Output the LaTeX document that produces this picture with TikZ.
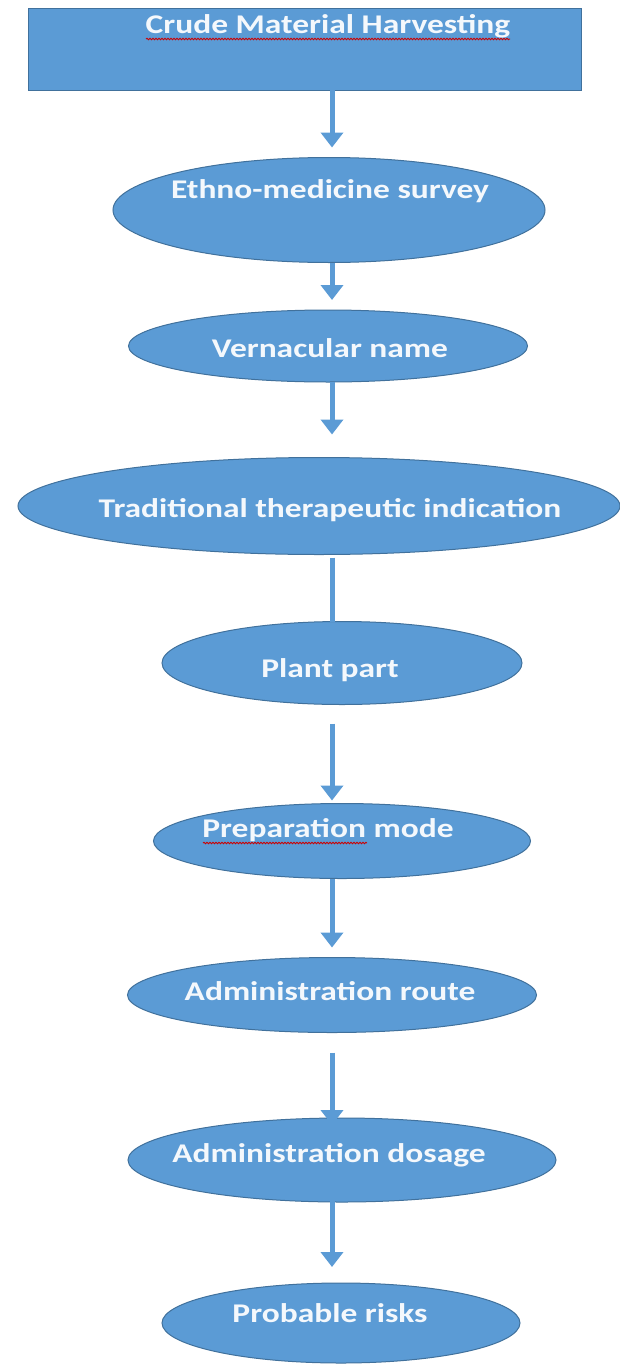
\documentclass[tikz,border=0pt]{standalone}
\usepackage{fontspec}
\setmainfont{Carlito}
\newfontfamily\stagefont[FakeStretch=1.24]{Carlito}
\usetikzlibrary{shapes.geometric,arrows.meta,decorations.pathmorphing}

\definecolor{boxfill}{HTML}{5B9BD5}
\definecolor{boxline}{HTML}{41719C}
\definecolor{labelcol}{HTML}{F4F8FC}

\tikzset{
  stage/.style={draw=boxline, fill=boxfill, line width=1pt, inner sep=0pt, outer sep=0pt},
  oval/.style={stage, ellipse},
  lbl/.style={text=labelcol, font=\stagefont\fontsize{27}{30}\selectfont\bfseries, inner sep=0pt, anchor=base},
  conn/.style={draw=boxfill, line width=5pt, -{Triangle[length=15pt,width=22pt]}},
  link/.style={draw=boxfill, line width=5pt},
  spell/.style={draw=red!80!black, line width=0.9pt, decorate,
    decoration={snake, segment length=3pt, amplitude=0.7pt}}
}

\begin{document}
\begin{tikzpicture}[x=1pt, y=-1pt]
  \useasboundingbox (0,0) rectangle (620,1365);

  % vertical axis shared by all connectors
  \coordinate (axis) at (332,0);

  % top box
  \node[stage, rectangle, minimum width=553pt, minimum height=82pt] (r) at (304.5,49) {};
  \node[lbl] (t0) at (328,33) {Crude Material Harvesting};
  \coordinate (u0a) at (146,39);
  \coordinate (u0b) at (510,39);
  \draw[spell] (u0a) -- (u0b);

  % ellipses
  \node[oval, minimum width=432pt, minimum height=105pt] (e1) at (329,210) {};
  \node[lbl] (t1) at (330,198) {Ethno-medicine survey};

  \node[oval, minimum width=399pt, minimum height=72pt] (e2) at (328,346) {};
  \node[lbl] (t2) at (330,357) {Vernacular name};

  \node[oval, minimum width=602pt, minimum height=97pt] (e3) at (319,506) {};
  \node[lbl] (t3) at (330,517) {Traditional therapeutic indication};

  \node[oval, minimum width=360pt, minimum height=83pt] (e4) at (342,663) {};
  \node[lbl] (t4) at (330,677) {Plant part};

  \node[oval, minimum width=377pt, minimum height=75pt] (e5) at (342,841) {};
  \node[lbl] (t5) at (328,837) {Preparation mode};
  \coordinate (u5a) at (203,843);
  \coordinate (u5b) at (367,843);
  \draw[spell] (u5a) -- (u5b);

  \node[oval, minimum width=409pt, minimum height=75pt] (e6) at (332,995) {};
  \node[lbl] (t6) at (330,1000) {Administration route};

  \node[oval, minimum width=428pt, minimum height=84pt] (e7) at (342,1160) {};
  \node[lbl] (t7) at (329,1162) {Administration dosage};

  \node[oval, minimum width=358pt, minimum height=80pt] (e8) at (341,1323) {};
  \node[lbl] (t8) at (330,1322) {Probable risks};

  % connectors
  \draw[conn] (r.south -| axis) -- ([yshift=10pt]e1.north -| axis);
  \draw[conn] (e1.south -| axis) -- ([yshift=10pt]e2.north -| axis);
  \draw[conn] (e2.south -| axis) -- ([yshift=23pt]e3.north -| axis);
  \draw[link] ([yshift=-3pt]e3.south -| axis) -- (e4.north -| axis);
  \draw[conn] ([yshift=-19pt]e4.south -| axis) -- ([yshift=3pt]e5.north -| axis);
  \draw[conn] (e5.south -| axis) -- ([yshift=10pt]e6.north -| axis);
  \draw[conn] ([yshift=-20pt]e6.south -| axis) -- ([yshift=-7pt]e7.north -| axis);
  \draw[conn] ([yshift=15pt]e7.south -| axis) -- ([yshift=16pt]e8.north -| axis);
\end{tikzpicture}
\end{document}
